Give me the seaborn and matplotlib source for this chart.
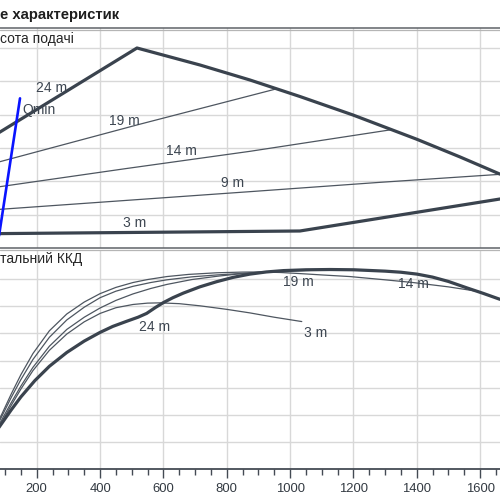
import matplotlib
matplotlib.use("Agg")
import matplotlib.pyplot as plt
from matplotlib.lines import Line2D
from matplotlib.ticker import MultipleLocator
import seaborn as sns

# ---------------- data ----------------
# Top panel: head (m) vs flow
env_x = [60, 516.6, 715.6, 873.4, 1031.4, 1198.8, 1400.9, 1536.6, 1663]
env_y = [16.7, 30.0, 27.45, 25.2, 22.72, 19.95, 16.3, 13.66, 11.08]

h3_x = [60, 1031, 1663]
h3_y = [2.15, 2.55, 7.35]

h19_x = [60, 84, 520, 957.7]
h19_y = [12.65, 12.95, 18.5, 23.88]

h14_x = [60, 84, 480, 873, 1320.6]
h14_y = [9.05, 9.2, 11.9, 14.5, 17.75]

h9_x = [60, 84, 873, 1284, 1663]
h9_y = [5.7, 5.8, 8.45, 9.85, 11.05]

qmin_x = [75, 147.2]
qmin_y = [0.0, 22.45]

top_labels = ["24 m", "19 m", "14 m", "9 m", "3 m"]
top_lab_x = [248, 478, 658, 819, 510]
top_lab_y = [24.0, 19.05, 14.6, 9.8, 3.8]
qmin_label = "Qmin"

# Bottom panel: efficiency (%) vs flow
e24_x = [70, 84, 120, 150, 194, 240, 295, 350, 400, 440, 484, 520, 547, 575, 600, 630, 663, 715,
         768, 820, 873, 925, 979, 1050, 1126, 1202, 1300, 1350, 1401, 1450, 1500, 1559, 1610, 1663]
e24_y = [13.5, 15.9, 21.9, 26.6, 32.6, 37.9, 43.0, 47.2, 50.4, 52.6, 54.5, 56.0, 57.4, 59.6, 61.4, 63.2,
         64.9, 67.2, 69.1, 70.7, 71.9, 72.7, 73.2, 73.5, 73.6, 73.5, 73.0, 72.6, 71.9, 70.8, 69.2, 66.8,
         64.8, 62.6]

eB_x = [70, 84, 120, 150, 188, 240, 295, 350, 400, 450, 504, 550, 611, 680, 769, 850, 905, 970,
        1031, 1100, 1189, 1300, 1388, 1500, 1600]
eB_y = [15.3, 18.8, 27.8, 34.8, 42.6, 51.0, 57.2, 61.6, 64.7, 67.0, 68.8, 69.9, 71.0, 71.8, 72.4, 72.65,
        72.7, 72.5, 72.1, 71.6, 71.0, 69.8, 68.8, 67.2, 65.4]

eC_x = [70, 84, 120, 150, 188, 240, 295, 350, 400, 450, 504, 560, 611, 690, 769, 840, 905, 970,
        1031, 1126]
eC_y = [14.8, 18.1, 26.5, 33.0, 40.4, 48.6, 55.0, 59.7, 63.2, 65.6, 67.4, 68.8, 69.8, 70.9, 71.6, 72.1,
        72.5, 72.9, 73.15, 73.5]

eD_x = [70, 84, 120, 150, 188, 240, 295, 350, 400, 450, 504, 560, 611, 690, 769, 840, 905, 1000]
eD_y = [14.0, 17.0, 24.6, 30.6, 37.5, 45.3, 51.5, 56.0, 59.4, 62.2, 64.6, 66.6, 68.1, 69.9, 71.1, 72.0,
        72.6, 73.3]

e3_x = [70, 84, 120, 150, 188, 240, 295, 350, 400, 450, 504, 550, 589, 650, 716, 800, 873, 950, 1037]
e3_y = [13.3, 16.2, 23.6, 29.5, 36.3, 43.8, 49.8, 54.3, 57.4, 59.5, 60.7, 61.2, 61.3, 61.0, 60.2, 58.9,
        57.6, 56.0, 54.4]

bot_labels = ["24 m", "19 m", "14 m", "3 m"]
bot_lab_x = [572, 1026, 1390, 1082]
bot_lab_y = [52.3, 68.9, 68.3, 50.1]

x_ticks = [200, 400, 600, 800, 1000, 1200, 1400, 1600]
title_text = "е характеристик"
top_panel_label = "сота подачі"
bot_panel_label = "тальний ККД"

# ---------------- style ----------------
sns.set_theme(style="white")
plt.rcParams["font.family"] = ["Liberation Sans", "DejaVu Sans"]

DARK = "#3a434e"
THIN = "#4e5660"
TXT = "#3c4550"
GRID = "#d8d8d8"
LAB_FS = 10.0

fig = plt.figure(figsize=(5, 5), dpi=100)
fig.patch.set_facecolor("white")

ax1 = fig.add_axes([0, 0.504, 1, 0.440])
ax2 = fig.add_axes([0, 0.062, 1, 0.438])

XLIM = (84, 1663)

for ax in (ax1, ax2):
    ax.set_facecolor("white")
    for s in ax.spines.values():
        s.set_visible(False)
    ax.set_xticks(x_ticks)
    ax.grid(True, which="major", color=GRID, lw=1.0)
    ax.set_axisbelow(True)

# top panel
ax1.set_yticks([5, 10, 15, 20, 25, 30])
ax1.tick_params(axis="both", length=0, labelbottom=False, labelleft=False)

for xs, ys in [(h19_x, h19_y), (h14_x, h14_y), (h9_x, h9_y)]:
    sns.lineplot(x=xs, y=ys, ax=ax1, color=THIN, lw=0.9, sort=False, estimator=None)
sns.lineplot(x=env_x, y=env_y, ax=ax1, color=DARK, lw=2.3, sort=False, estimator=None)
sns.lineplot(x=h3_x, y=h3_y, ax=ax1, color=DARK, lw=2.3, sort=False, estimator=None)
sns.lineplot(x=qmin_x, y=qmin_y, ax=ax1, color="#0a14ff", lw=1.9, sort=False, estimator=None)

for t, x, y in zip(top_labels, top_lab_x, top_lab_y):
    ax1.text(x, y, t, ha="center", va="center", fontsize=LAB_FS, color=TXT)
ax1.text(155, 20.7, qmin_label, ha="left", va="center", fontsize=LAB_FS, color=TXT)
ax1.set_xlim(*XLIM)
ax1.set_ylim(0, 33)

# bottom panel
ax2.set_yticks([10, 20, 30, 40, 50, 60, 70])
ax2.spines["bottom"].set_visible(True)
ax2.spines["bottom"].set_color("#444b54")
ax2.spines["bottom"].set_linewidth(1.3)
ax2.xaxis.set_minor_locator(MultipleLocator(50))
ax2.tick_params(axis="y", length=0, labelleft=False)
ax2.tick_params(axis="x", which="major", direction="out", length=6.2, width=1.0,
                color="#444b54", labelsize=9.4, labelcolor="#333a42", pad=4.0, bottom=True)
ax2.tick_params(axis="x", which="minor", direction="out", length=4.5, width=1.0,
                color="#444b54", bottom=True)

for xs, ys in [(eB_x, eB_y), (eC_x, eC_y), (eD_x, eD_y), (e3_x, e3_y)]:
    sns.lineplot(x=xs, y=ys, ax=ax2, color=THIN, lw=0.9, sort=False, estimator=None)
sns.lineplot(x=e24_x, y=e24_y, ax=ax2, color=DARK, lw=2.3, sort=False, estimator=None)

for t, x, y in zip(bot_labels, bot_lab_x, bot_lab_y):
    ax2.text(x, y, t, ha="center", va="center", fontsize=LAB_FS, color=TXT)
ax2.set_xlim(*XLIM)
ax2.set_ylim(0, 80.8)

for ax in (ax1, ax2):
    ax.set_xlabel("")
    ax.set_ylabel("")

# header lines (double rule)
for yd, yl in [(1 - 27.5 / 500, 1 - 29.7 / 500), (1 - 247.6 / 500, 1 - 249.9 / 500)]:
    fig.add_artist(Line2D([0, 1], [yd, yd], transform=fig.transFigure, color="#5f6368", lw=1.1))
    fig.add_artist(Line2D([0, 1], [yl, yl], transform=fig.transFigure, color="#b5b5b5", lw=0.9))

fig.text(0.0, 1 - 15.5 / 500, title_text, ha="left", va="center", fontsize=10.7,
         fontweight="bold", color="#1e1e1e")
fig.text(0.0, 1 - 38.5 / 500, top_panel_label, ha="left", va="center", fontsize=10.0, color="#262626")
fig.text(0.0, 1 - 258.5 / 500, bot_panel_label, ha="left", va="center", fontsize=10.0, color="#262626")

fig.savefig("out.png", dpi=100, facecolor="white")
